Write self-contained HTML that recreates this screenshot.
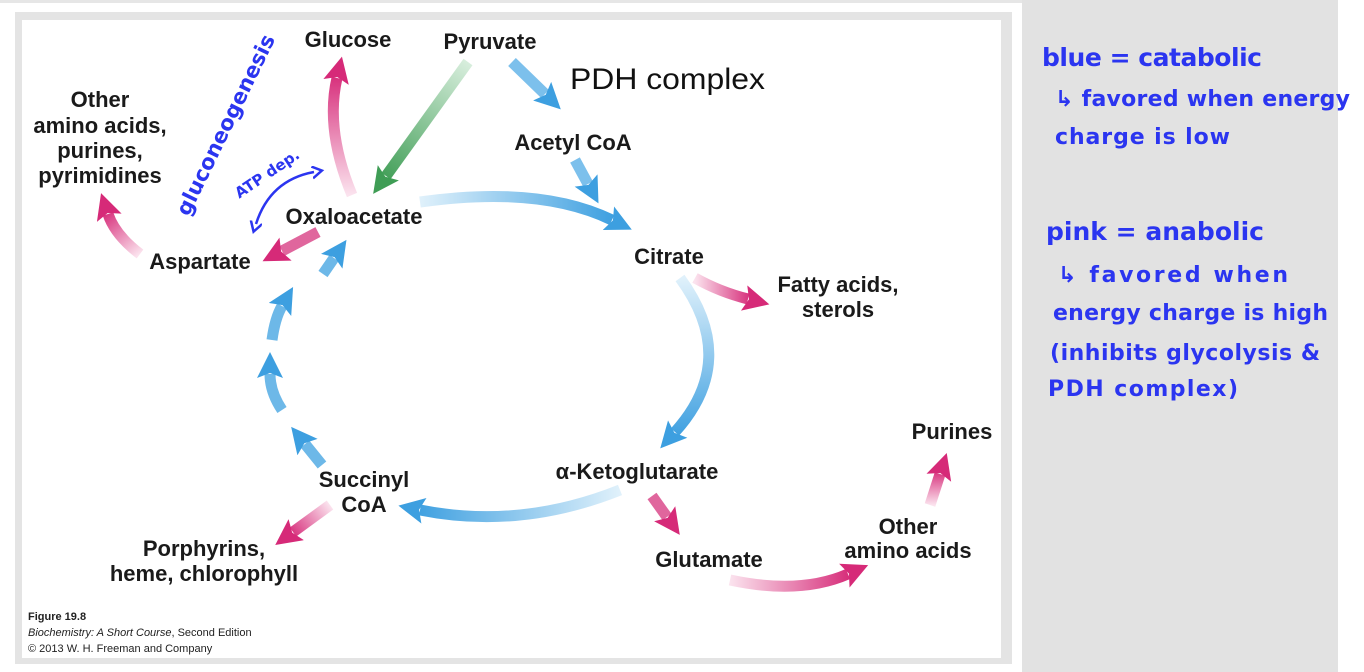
<!DOCTYPE html>
<html><head><meta charset="utf-8"><style>
html,body{margin:0;padding:0;background:#fff;}
body{width:1364px;height:672px;position:relative;overflow:hidden;font-family:"Liberation Sans",sans-serif;}
</style></head><body>
<svg width="1364" height="672" viewBox="0 0 1364 672" xmlns="http://www.w3.org/2000/svg" style="position:absolute;left:0;top:0">
<defs>
<marker id="mb" markerUnits="userSpaceOnUse" markerWidth="34" markerHeight="34" refX="4" refY="13" orient="auto"><path d="M0,0 L26,13 L0,26 L5,13 Z" fill="#3d9fe0"/></marker>
<marker id="mp" markerUnits="userSpaceOnUse" markerWidth="34" markerHeight="34" refX="4" refY="13" orient="auto"><path d="M0,0 L26,13 L0,26 L5,13 Z" fill="#d62a78"/></marker>
<marker id="mg" markerUnits="userSpaceOnUse" markerWidth="34" markerHeight="34" refX="4" refY="13" orient="auto"><path d="M0,0 L26,13 L0,26 L5,13 Z" fill="#3f9d55"/></marker>
<marker id="mh" markerUnits="userSpaceOnUse" markerWidth="16" markerHeight="16" refX="2" refY="6" orient="auto-start-reverse"><path d="M0,0 L10,6 L0,12" fill="none" stroke="#2b35f0" stroke-width="2.5"/></marker>
</defs>
<rect x="0" y="0" width="1364" height="672" fill="#fff"/>
<rect x="0" y="0" width="1022" height="3" fill="#e6e6e6"/>
<rect x="15" y="12" width="997" height="652" fill="#e4e4e4"/>
<rect x="22" y="20" width="979" height="638" fill="#fff"/>
<rect x="1022" y="0" width="316" height="672" fill="#e2e2e2"/>

<defs>
<linearGradient id="gg" x1="468" y1="62" x2="382" y2="182" gradientUnits="userSpaceOnUse"><stop offset="0" stop-color="#d8eedd"/><stop offset="1" stop-color="#3f9d55"/></linearGradient>
<linearGradient id="gb1" x1="420" y1="0" x2="615" y2="0" gradientUnits="userSpaceOnUse"><stop offset="0" stop-color="#e0f1fb"/><stop offset="1" stop-color="#3d9fe0"/></linearGradient>
<linearGradient id="gb2" x1="0" y1="278" x2="0" y2="438" gradientUnits="userSpaceOnUse"><stop offset="0" stop-color="#e0f1fb"/><stop offset="1" stop-color="#3d9fe0"/></linearGradient>
<linearGradient id="gb3" x1="620" y1="0" x2="415" y2="0" gradientUnits="userSpaceOnUse"><stop offset="0" stop-color="#e0f1fb"/><stop offset="1" stop-color="#3d9fe0"/></linearGradient>
<linearGradient id="gp1" x1="0" y1="195" x2="0" y2="72" gradientUnits="userSpaceOnUse"><stop offset="0" stop-color="#fbe3ee"/><stop offset="1" stop-color="#d62a78"/></linearGradient>
<linearGradient id="gp2" x1="140" y1="254" x2="106" y2="210" gradientUnits="userSpaceOnUse"><stop offset="0" stop-color="#fbe3ee"/><stop offset="1" stop-color="#d62a78"/></linearGradient>
<linearGradient id="gp3" x1="695" y1="0" x2="752" y2="0" gradientUnits="userSpaceOnUse"><stop offset="0" stop-color="#fbe3ee"/><stop offset="1" stop-color="#d62a78"/></linearGradient>
<linearGradient id="gp4" x1="330" y1="505" x2="290" y2="535" gradientUnits="userSpaceOnUse"><stop offset="0" stop-color="#fbe3ee"/><stop offset="1" stop-color="#d62a78"/></linearGradient>
<linearGradient id="gp5" x1="730" y1="0" x2="852" y2="0" gradientUnits="userSpaceOnUse"><stop offset="0" stop-color="#fbe3ee"/><stop offset="1" stop-color="#d62a78"/></linearGradient>
<linearGradient id="gp6" x1="0" y1="505" x2="0" y2="470" gradientUnits="userSpaceOnUse"><stop offset="0" stop-color="#fbe3ee"/><stop offset="1" stop-color="#d62a78"/></linearGradient>
</defs>

<g fill="none" stroke-width="11">
<path d="M468,62 L386,176" stroke="url(#gg)" marker-end="url(#mg)"/>
<path d="M512,62 L545,94" stroke="#7cc0ec" marker-end="url(#mb)"/>
<path d="M575,160 L588,184" stroke="#7cc0ec" marker-end="url(#mb)"/>
<path d="M420,202 Q540,185 612,220" stroke="url(#gb1)" marker-end="url(#mb)"/>
<path d="M680,278 Q740,360 675,432" stroke="url(#gb2)" marker-end="url(#mb)"/>
<path d="M620,490 Q520,530 420,510" stroke="url(#gb3)" marker-end="url(#mb)"/>
<path d="M323,274 L334,258" stroke="#6db8e8" marker-end="url(#mb)"/>
<path d="M272,340 Q275,318 282,306" stroke="#6db8e8" marker-end="url(#mb)"/>
<path d="M282,410 Q270,392 270,374" stroke="#6db8e8" marker-end="url(#mb)"/>
<path d="M322,465 L305,444" stroke="#6db8e8" marker-end="url(#mb)"/>
<path d="M352,195 Q325,130 337,78" stroke="url(#gp1)" marker-end="url(#mp)"/>
<path d="M318,232 L282,251" stroke="#e0669d" marker-end="url(#mp)"/>
<path d="M140,254 Q115,235 108,214" stroke="url(#gp2)" marker-end="url(#mp)"/>
<path d="M695,278 Q720,292 748,299" stroke="url(#gp3)" marker-end="url(#mp)"/>
<path d="M330,505 L293,532" stroke="url(#gp4)" marker-end="url(#mp)"/>
<path d="M652,496 L667,517" stroke="#e0669d" marker-end="url(#mp)"/>
<path d="M730,580 Q800,595 848,574" stroke="url(#gp5)" marker-end="url(#mp)"/>
<path d="M930,505 L940,474" stroke="url(#gp6)" marker-end="url(#mp)"/>
</g>

<g font-family="Liberation Sans, sans-serif" font-weight="bold" font-size="22" fill="#1a1a1a" text-anchor="middle">
<text x="348" y="47">Glucose</text>
<text x="490" y="49">Pyruvate</text>
<text x="100" y="107">Other</text>
<text x="100" y="133">amino acids,</text>
<text x="100" y="158">purines,</text>
<text x="100" y="183">pyrimidines</text>
<text x="573" y="150">Acetyl CoA</text>
<text x="354" y="224">Oxaloacetate</text>
<text x="200" y="269">Aspartate</text>
<text x="669" y="264">Citrate</text>
<text x="838" y="292">Fatty acids,</text>
<text x="838" y="317">sterols</text>
<text x="952" y="439">Purines</text>
<text x="364" y="487">Succinyl</text>
<text x="364" y="512">CoA</text>
<text x="637" y="479">α-Ketoglutarate</text>
<text x="908" y="534">Other</text>
<text x="908" y="558">amino acids</text>
<text x="204" y="556">Porphyrins,</text>
<text x="204" y="581">heme, chlorophyll</text>
<text x="709" y="567">Glutamate</text>
</g>
<text x="570" y="89" font-family="Liberation Sans, sans-serif" font-size="30" fill="#111" textLength="195" lengthAdjust="spacingAndGlyphs">PDH complex</text>
<g font-family="Liberation Sans, sans-serif" font-size="11" fill="#222">
<text x="28" y="620" font-weight="bold">Figure 19.8</text>
<text x="28" y="636"><tspan font-style="italic">Biochemistry: A Short Course</tspan>, Second Edition</text>
<text x="28" y="652">© 2013 W. H. Freeman and Company</text>
</g>

<g font-family="DejaVu Sans, sans-serif" font-weight="bold" fill="#2b35f0">
<text x="0" y="0" font-size="21" transform="translate(232,128) rotate(-64)" text-anchor="middle">gluconeogenesis</text>
<text x="0" y="0" font-size="15" transform="translate(270,178) rotate(-34)" text-anchor="middle">ATP dep.</text>
</g>
<path d="M256,224 Q270,180 314,172" fill="none" stroke="#2b35f0" stroke-width="2.5" marker-start="url(#mh)" marker-end="url(#mh)"/>

<g font-family="DejaVu Sans, sans-serif" fill="#2b35f0" font-weight="bold" lengthAdjust="spacingAndGlyphs">
<text x="1042" y="66" font-size="25" textLength="220">blue = catabolic</text>
<text x="1055" y="106" font-size="22" textLength="295">↳ favored when energy</text>
<text x="1055" y="144" font-size="22" textLength="175">charge is low</text>
<text x="1046" y="240" font-size="25" textLength="218">pink = anabolic</text>
<text x="1058" y="282" font-size="22" textLength="230">↳ favored when</text>
<text x="1053" y="320" font-size="22" textLength="275">energy charge is high</text>
<text x="1050" y="360" font-size="22" textLength="270">(inhibits glycolysis &amp;</text>
<text x="1048" y="396" font-size="22" textLength="190">PDH complex)</text>
</g>
</svg>
</body></html>
